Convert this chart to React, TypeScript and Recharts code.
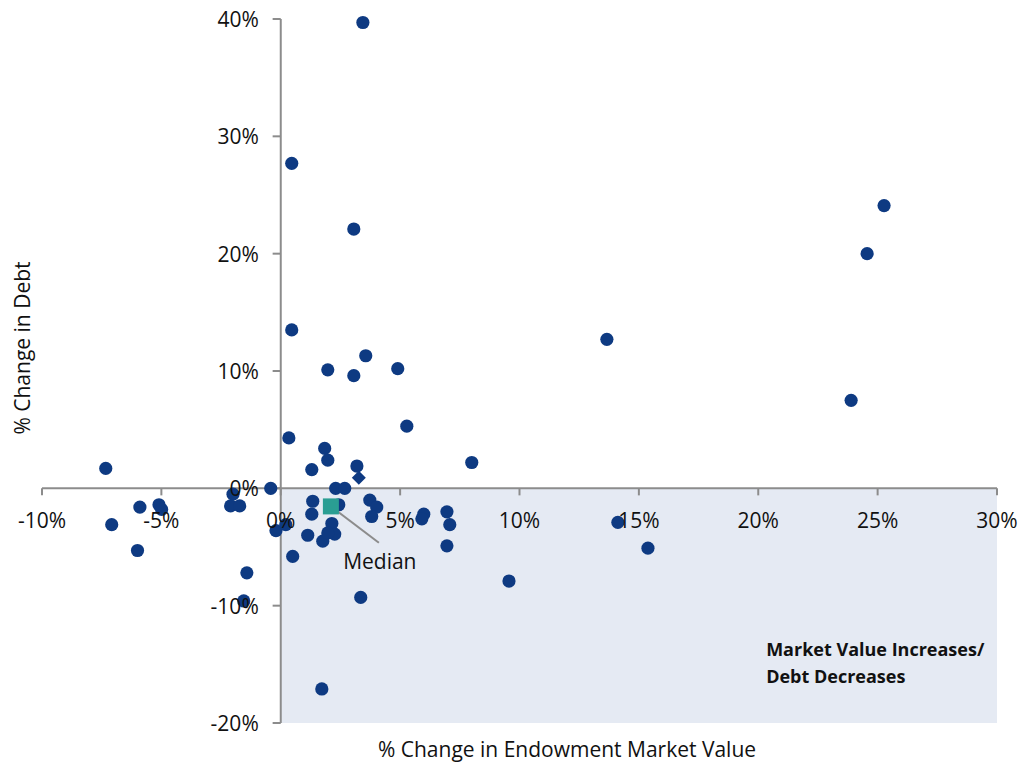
import {
  ScatterChart,
  Scatter,
  XAxis,
  YAxis,
  ReferenceArea,
  ReferenceLine,
  ReferenceDot,
} from 'recharts';

// % change in endowment market value (x) vs % change in debt (y)
const MARKET_VALUE = [
  3.44, 0.46, 3.06, 0.46, 3.56, 1.97, 3.06, 4.9, 5.28, 0.34, 1.84, 1.97, 1.3, 3.19, 2.3, 2.68, -0.42, 8.0,
  13.66, 25.27, 24.56, 23.89, -7.33, -7.08, -5.9, -5.1, -4.99, -6.0, -2.0, -2.1, -1.72, -1.42, -1.55, -0.2,
  0.21, 0.5, 1.34, 1.3, 1.13, 1.76, 2.14, 2.26, 1.97, 2.43, 3.73, 4.02, 3.81, 5.99, 5.91, 6.96, 7.08, 6.96,
  3.35, 9.56, 14.12, 15.38, 1.72,
];
const DEBT = [
  39.7, 27.7, 22.1, 13.5, 11.3, 10.1, 9.6, 10.2, 5.3, 4.3, 3.4, 2.4, 1.6, 1.9, 0.0, 0.0, 0.0, 2.2,
  12.7, 24.1, 20.0, 7.5, 1.7, -3.1, -1.6, -1.4, -1.8, -5.3, -0.5, -1.5, -1.5, -7.2, -9.6, -3.6,
  -3.1, -5.8, -1.1, -2.2, -4.0, -4.5, -3.0, -3.9, -3.8, -1.4, -1.0, -1.6, -2.4, -2.2, -2.6, -2.0, -3.1, -4.9,
  -9.3, -7.9, -2.9, -5.1, -17.1,
];
const HIGHLIGHT = [{ x: 3.27, y: 0.9 }];
const MEDIAN = [{ x: 2.1, y: -1.54 }];

const X_TICKS = [-10, -5, 0, 5, 10, 15, 20, 25, 30];
const Y_TICKS = [-20, -10, 0, 10, 20, 30, 40];

const points = MARKET_VALUE.map((x, i) => ({ x, y: DEBT[i] }));

const NAVY = '#0E3A82';
const TEAL = '#2A9E93';
const AXIS = '#8C8C8C';
const FONT = '"Open Sans", sans-serif';

const Dot = (p: any) => <circle cx={p.cx} cy={p.cy} r={6.6} fill={NAVY} />;
const Diamond = (p: any) => (
  <polygon
    points={`${p.cx},${p.cy - 7} ${p.cx + 7},${p.cy} ${p.cx},${p.cy + 7} ${p.cx - 7},${p.cy}`}
    fill={NAVY}
  />
);
const Square = (p: any) => <rect x={p.cx - 8} y={p.cy - 8} width={16} height={16} fill={TEAL} />;

export default function App() {
  return (
    <div style={{ position: 'absolute', left: 0, top: 0, width: 1027, height: 764, background: '#fff' }}>
      <ScatterChart width={1027} height={764} margin={{ top: 19, right: 30, bottom: 41, left: 42 }}>
        <XAxis type='number' dataKey='x' domain={[-10, 30]} hide />
        <YAxis type='number' dataKey='y' domain={[-20, 40]} hide />

        <ReferenceArea x1={0} x2={30} y1={-20} y2={0} fill='#E5EAF3' fillOpacity={1} stroke='none' />

        <ReferenceLine y={0} stroke={AXIS} strokeWidth={2} />
        <ReferenceLine x={0} stroke={AXIS} strokeWidth={2} />

        {X_TICKS.map((v) => (
          <ReferenceLine
            key={'xt' + v}
            segment={[
              { x: v, y: 0 },
              { x: v, y: -0.6 },
            ]}
            stroke={AXIS}
            strokeWidth={2}
          />
        ))}
        {Y_TICKS.map((v) => (
          <ReferenceLine
            key={'yt' + v}
            segment={[
              { x: -0.34, y: v },
              { x: 0, y: v },
            ]}
            stroke={AXIS}
            strokeWidth={2}
          />
        ))}

        <ReferenceLine
          segment={[
            { x: 2.1, y: -1.54 },
            { x: 4.11, y: -4.64 },
          ]}
          stroke={AXIS}
          strokeWidth={2}
        />

        <Scatter data={points} shape={Dot} isAnimationActive={false} />
        <Scatter data={HIGHLIGHT} shape={Diamond} isAnimationActive={false} />
        <Scatter data={MEDIAN} shape={Square} isAnimationActive={false} />

        {X_TICKS.map((v) => (
          <ReferenceDot
            key={'xl' + v}
            x={v}
            y={0}
            r={0}
            fill='none'
            stroke='none'
            label={(p: any) => (
              <text
                x={p.viewBox.x}
                y={p.viewBox.y + 32}
                textAnchor='middle'
                dominantBaseline='central'
                fontFamily={FONT}
                fontSize={21}
                fill='#111'
              >
                {v + '%'}
              </text>
            )}
          />
        ))}
        {Y_TICKS.map((v) => (
          <ReferenceDot
            key={'yl' + v}
            x={0}
            y={v}
            r={0}
            fill='none'
            stroke='none'
            label={(p: any) => (
              <text
                x={p.viewBox.x - 22}
                y={p.viewBox.y}
                textAnchor='end'
                dominantBaseline='central'
                fontFamily={FONT}
                fontSize={21}
                fill='#111'
              >
                {v + '%'}
              </text>
            )}
          />
        ))}

        <ReferenceDot
          x={4.15}
          y={-6.17}
          r={0}
          fill='none'
          stroke='none'
          label={(p: any) => (
            <text
              x={p.viewBox.x}
              y={p.viewBox.y}
              textAnchor='middle'
              dominantBaseline='central'
              fontFamily={FONT}
              fontSize={21}
              fill='#111'
            >
              Median
            </text>
          )}
        />

        <ReferenceDot
          x={20.33}
          y={-14.3}
          r={0}
          fill='none'
          stroke='none'
          label={(p: any) => (
            <text x={p.viewBox.x} y={p.viewBox.y} fontFamily={FONT} fontSize={18} fontWeight={700} fill='#111'>
              <tspan x={p.viewBox.x}>Market Value Increases/</tspan>
              <tspan x={p.viewBox.x} dy={27}>
                Debt Decreases
              </tspan>
            </text>
          )}
        />
      </ScatterChart>

      <div
        style={{
          position: 'absolute',
          left: 567,
          top: 749,
          transform: 'translate(-50%, -50%)',
          fontFamily: FONT,
          fontSize: 21,
          whiteSpace: 'nowrap',
          color: '#111',
        }}
      >
        % Change in Endowment Market Value
      </div>
      <div
        style={{
          position: 'absolute',
          left: 22,
          top: 348,
          transform: 'translate(-50%, -50%) rotate(-90deg)',
          fontFamily: FONT,
          fontSize: 21,
          whiteSpace: 'nowrap',
          color: '#111',
        }}
      >
        % Change in Debt
      </div>
    </div>
  );
}
